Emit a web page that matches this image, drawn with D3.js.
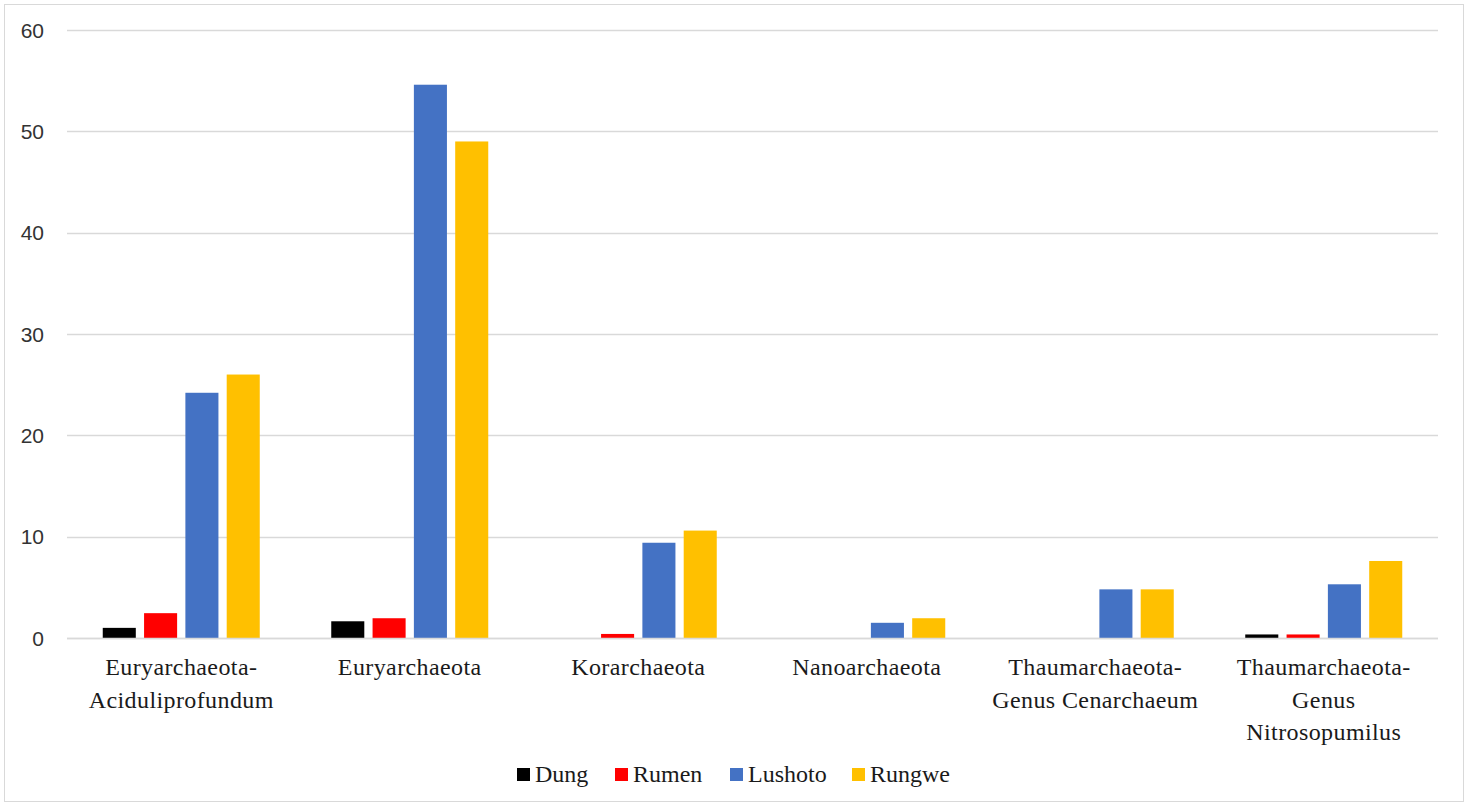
<!DOCTYPE html>
<html>
<head>
<meta charset="utf-8">
<script src="https://cdn.jsdelivr.net/npm/d3@7"></script>
<style>
  body { margin: 0; background: #fff; }
  svg { display: block; }
</style>
</head>
<body>
<div id="chart"></div>
<script>
const categories = [
  ["Euryarchaeota-", "Aciduliprofundum"],
  ["Euryarchaeota"],
  ["Korarchaeota"],
  ["Nanoarchaeota"],
  ["Thaumarchaeota-", "Genus Cenarchaeum"],
  ["Thaumarchaeota-", "Genus", "Nitrosopumilus"]
];
const series = ["Dung", "Rumen", "Lushoto", "Rungwe"];
const colors = ["#000000", "#ff0000", "#4472c4", "#ffc000"];

const dung = [1.0, 1.65, 0, 0, 0, 0.35];
const rumen = [2.45, 1.95, 0.4, 0, 0, 0.35];
const lushoto = [24.2, 54.6, 9.4, 1.5, 4.8, 5.3];
const rungwe = [26.0, 49.0, 10.6, 1.95, 4.8, 7.6];
const values = [dung, rumen, lushoto, rungwe];

const y_ticks = [0, 10, 20, 30, 40, 50, 60];

const width = 1468;
const height = 806;

const svg = d3.select("#chart")
  .append("svg")
  .attr("width", width)
  .attr("height", height);

// outer frame
svg.append("rect")
  .attr("x", 4.5).attr("y", 4.5)
  .attr("width", width - 9).attr("height", height - 9)
  .attr("fill", "#fff")
  .attr("stroke", "#d9d9d9");

const plot_left = 67, plot_right = 1438, plot_top = 30, plot_bottom = 638;

const y = d3.scaleLinear().domain([0, 60]).range([plot_bottom, plot_top]);
const x0 = d3.scaleBand().domain(d3.range(categories.length)).range([plot_left, plot_right]);
const group_w = 157;
const x1 = d3.scaleBand().domain(d3.range(series.length))
  .range([(x0.bandwidth() - group_w) / 2, (x0.bandwidth() + group_w) / 2])
  .paddingInner(0.2);

// gridlines
svg.append("g")
  .selectAll("line")
  .data(y_ticks)
  .enter()
  .append("line")
  .attr("x1", plot_left).attr("x2", plot_right)
  .attr("y1", (d) => Math.round(y(d)) + 0.5)
  .attr("y2", (d) => Math.round(y(d)) + 0.5)
  .attr("stroke", "#d9d9d9")
  .attr("stroke-width", 1.3);

// y labels
svg.append("g")
  .selectAll("text")
  .data(y_ticks)
  .enter()
  .append("text")
  .attr("x", 44)
  .attr("y", (d) => y(d))
  .attr("dy", "0.36em")
  .attr("text-anchor", "end")
  .attr("font-family", "Liberation Sans, Arial, sans-serif")
  .attr("font-size", 21)
  .attr("fill", "#333")
  .text((d) => d);

// bars
values.forEach((vals, si) => {
  svg.append("g")
    .attr("fill", colors[si])
    .selectAll("rect")
    .data(vals.map((v, ci) => ({ v: v, ci: ci })).filter((d) => d.v > 0))
    .enter()
    .append("rect")
    .attr("x", (d) => x0(d.ci) + x1(si))
    .attr("y", (d) => y(d.v))
    .attr("width", x1.bandwidth())
    .attr("height", (d) => plot_bottom - y(d.v));
});

// zero line on top of the bars
svg.append("line")
  .attr("x1", plot_left).attr("x2", plot_right)
  .attr("y1", plot_bottom + 0.5).attr("y2", plot_bottom + 0.5)
  .attr("stroke", "#d9d9d9")
  .attr("stroke-width", 1.3);

// category labels
const cat_labels = svg.append("g")
  .selectAll("text")
  .data(categories)
  .enter()
  .append("text")
  .attr("text-anchor", "middle")
  .attr("font-family", "Liberation Serif, Times New Roman, serif")
  .attr("font-size", 24)
  .attr("letter-spacing", 0.4)
  .attr("fill", "#1a1a1a")
  .attr("transform", (d, i) => `translate(${x0(i) + x0.bandwidth() / 2},675)`);

cat_labels.selectAll("tspan")
  .data((d) => d)
  .enter()
  .append("tspan")
  .attr("x", 0)
  .attr("y", (d, i) => i * 32.5)
  .text((d) => d);

// legend
const legend_x = [517, 615, 730, 852];
const legend = svg.append("g")
  .selectAll("g")
  .data(series)
  .enter()
  .append("g")
  .attr("transform", (d, i) => `translate(${legend_x[i]},768)`);

legend.append("rect")
  .attr("width", 13).attr("height", 13)
  .attr("fill", (d, i) => colors[i]);

legend.append("text")
  .attr("x", 18)
  .attr("y", 14)
  .attr("font-family", "Liberation Serif, Times New Roman, serif")
  .attr("font-size", 24)
  .attr("fill", "#1a1a1a")
  .text((d) => d);
</script>
</body>
</html>
